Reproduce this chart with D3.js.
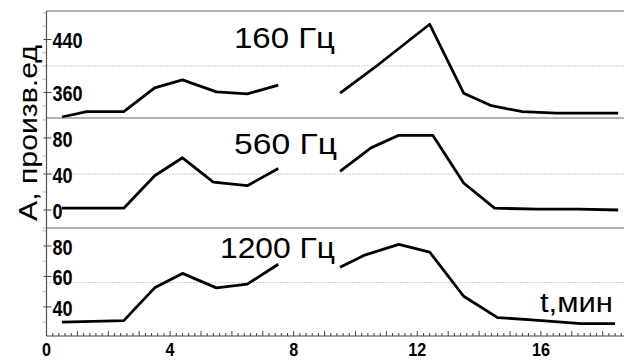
<!DOCTYPE html>
<html>
<head>
<meta charset="utf-8">
<script src="https://cdn.jsdelivr.net/npm/d3@7"></script>
<style>
  body { margin: 0; background: #fff; }
  svg { display: block; }
</style>
</head>
<body>
<div id="chart"></div>
<script>
// time axis (minutes)
const xTickLabels = [0, 4, 8, 12, 16];

// 160 Hz
const t160a = [0.5, 1.3, 2.5, 3.5, 4.4, 5.5, 6.5, 7.5];
const a160a = [323, 331, 331, 367, 379, 361, 358, 371];
const t160b = [9.5, 10.6, 12.4, 13.5, 14.4, 15.4, 16.5, 18.5];
const a160b = [359, 397, 463, 359, 340, 331, 329, 329];
const ticks160 = [360, 440];
const grid160 = 400;

// 560 Hz
const t560a = [0.5, 2.5, 3.5, 4.4, 5.4, 6.5, 7.5];
const a560a = [2, 2, 38, 58, 31, 27, 46];
const t560b = [9.5, 10.5, 11.4, 12.5, 13.5, 14.5, 15.9, 17.2, 18.5];
const a560b = [43, 69, 83, 83, 30, 2, 1, 1, 0];
const ticks560 = [0, 40, 80];
const grid560 = 40;

// 1200 Hz
const t1200a = [0.5, 2.5, 3.5, 4.4, 5.5, 6.5, 7.5];
const a1200a = [30, 31, 52.5, 62, 52.5, 55, 68];
const t1200b = [9.5, 10.3, 11.4, 12.4, 13.5, 14.6, 15.7, 17.3, 18.4];
const a1200b = [66, 74, 81, 76, 47, 33, 31.5, 29, 29];
const ticks1200 = [40, 60, 80];
const grid1200 = 56;

const width = 624, height = 360;
const left = 46.5, bottom = 336;
const font = "Liberation Sans, Arial, sans-serif";

const zip = (t, a) => t.map((d, i) => ({t: d, a: a[i]}));

const panels = [
  {title: "160 Гц", top: 11, bot: 118, domain: [321.5, 483], minor: 20,
   ticks: ticks160, grid: grid160, segs: [zip(t160a, a160a), zip(t160b, a160b)],
   tx: 234, ty: 48, len: 101},
  {title: "560 Гц", top: 118, bot: 228, domain: [-20, 102.2], minor: 20,
   ticks: ticks560, grid: grid560, segs: [zip(t560a, a560a), zip(t560b, a560b)],
   tx: 234, ty: 154, len: 103},
  {title: "1200 Гц", top: 228, bot: 336, domain: [20.9, 91.8], minor: 10,
   ticks: ticks1200, grid: grid1200, segs: [zip(t1200a, a1200a), zip(t1200b, a1200b)],
   tx: 220, ty: 258, len: 115}
];

const svg = d3.select("#chart").append("svg")
  .attr("width", width).attr("height", height);

const x = d3.scaleLinear().domain([0, (width - left) / 30.9]).range([left, width]);

panels.forEach(p => {
  const y = d3.scaleLinear().domain(p.domain).range([p.bot, p.top]);
  const g = svg.append("g");

  // dotted grid line
  g.append("line")
    .attr("x1", left).attr("x2", width)
    .attr("y1", y(p.grid)).attr("y2", y(p.grid))
    .attr("stroke", "#999").attr("stroke-width", 1)
    .attr("stroke-dasharray", "1,2");

  // minor ticks (faint, outside)
  const minor = d3.range(Math.ceil(p.domain[0] / p.minor) * p.minor, p.domain[1], p.minor)
    .filter(v => !p.ticks.includes(v));
  g.selectAll(".mt").data(minor).enter().append("line")
    .attr("x1", left - 4).attr("x2", left)
    .attr("y1", d => y(d)).attr("y2", d => y(d))
    .attr("stroke", "#bbb");

  // major ticks + labels
  g.selectAll(".tk").data(p.ticks).enter().append("line")
    .attr("x1", left - 3).attr("x2", left + 5)
    .attr("y1", d => y(d)).attr("y2", d => y(d))
    .attr("stroke", "#444");
  g.selectAll(".tl").data(p.ticks).enter().append("text")
    .attr("transform", d => `translate(${left + 6},${y(d) + 9}) scale(0.95,1.15)`)
    .attr("font-family", font)
    .attr("font-weight", "bold").attr("font-size", 19)
    .text(d => d);

  // panel top border
  g.append("line")
    .attr("x1", left).attr("x2", width)
    .attr("y1", p.top).attr("y2", p.top)
    .attr("stroke", "#666").attr("stroke-width", 1.2);

  // data
  const line = d3.line().x(d => x(d.t)).y(d => y(d.a));
  p.segs.forEach(s => {
    g.append("path").attr("d", line(s))
      .attr("fill", "none").attr("stroke", "#000")
      .attr("stroke-width", 2.8).attr("stroke-linejoin", "round");
  });

  g.append("text")
    .attr("x", p.tx).attr("y", p.ty)
    .attr("font-family", font)
    .attr("font-size", 30)
    .attr("textLength", p.len).attr("lengthAdjust", "spacingAndGlyphs")
    .text(p.title);
});

// left frame
svg.append("line")
  .attr("x1", left).attr("x2", left).attr("y1", 11).attr("y2", bottom)
  .attr("stroke", "#555").attr("stroke-width", 1.2);

// bottom axis
svg.append("line")
  .attr("x1", left).attr("x2", width).attr("y1", bottom).attr("y2", bottom)
  .attr("stroke", "#444").attr("stroke-width", 1.2);

const minorX = d3.range(0, x.domain()[1], 0.2);
svg.selectAll(".xm").data(minorX).enter().append("line")
  .attr("x1", d => x(d)).attr("x2", d => x(d))
  .attr("y1", bottom).attr("y2", d => Math.abs(d - Math.round(d)) < 1e-6 ? bottom - 5 : bottom - 3)
  .attr("stroke", "#444");

svg.selectAll(".xl").data(xTickLabels).enter().append("text")
  .attr("transform", d => `translate(${x(d)},356) scale(0.95,1.1)`)
  .attr("text-anchor", "middle")
  .attr("font-family", font)
  .attr("font-weight", "bold").attr("font-size", 17)
  .text(d => d);

svg.append("text")
  .attr("x", 540).attr("y", 312)
  .attr("font-family", font)
  .attr("font-size", 27)
  .attr("textLength", 73).attr("lengthAdjust", "spacingAndGlyphs")
  .text("t,мин");

svg.append("text")
  .attr("transform", "translate(37,133) rotate(-90)")
  .attr("text-anchor", "middle")
  .attr("font-family", font)
  .attr("font-size", 26)
  .attr("textLength", 176).attr("lengthAdjust", "spacingAndGlyphs")
  .text("А, произв.ед");
</script>
</body>
</html>
